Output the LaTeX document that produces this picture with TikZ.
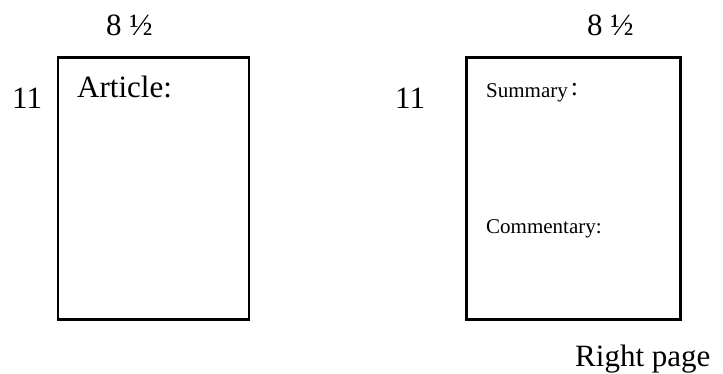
\documentclass[tikz,border=0pt]{standalone}
\usepackage{fontspec}
\setmainfont{Liberation Serif}
\usetikzlibrary{positioning}
\tikzstyle{page} = [rectangle, draw, line width=2.5pt, minimum width=191pt,
    minimum height=262pt, inner sep=0pt]
\tikzstyle{wide} = [page, minimum width=214pt]
\tikzstyle{big} = [anchor=base west, inner sep=0pt, font=\fontsize{31}{37}\selectfont]
\tikzstyle{small} = [anchor=base west, inner sep=0pt, font=\fontsize{21}{25}\selectfont]

\begin{document}
\begin{tikzpicture}[x=1pt, y=-1pt]

    \useasboundingbox (0,0) rectangle (723,373);

    % Place pages
    \node [page] (article) at (153.5,188.5) {};
    \node [wide] (right) at (573.5,188.5) {};

    % Sizes
    \node [big] (widthL) at (106,35) {8 ½};
    \node [big] (heightL) at (12,108) {11};
    \node [big] (widthR) at (587,35) {8 ½};
    \node [big] (heightR) at (395,108) {11};

    % Contents
    \node [big] (articletxt) at (77,97) {Article:};
    \node [small] (summary) at (486,97) {Summary\kern3pt\raisebox{2pt}{\fontsize{26}{30}\selectfont:}};
    \node [small] (commentary) at (486,233) {Commentary:};
    \node [big] (caption) at (575,366) {Right page};

\end{tikzpicture}
\end{document}
